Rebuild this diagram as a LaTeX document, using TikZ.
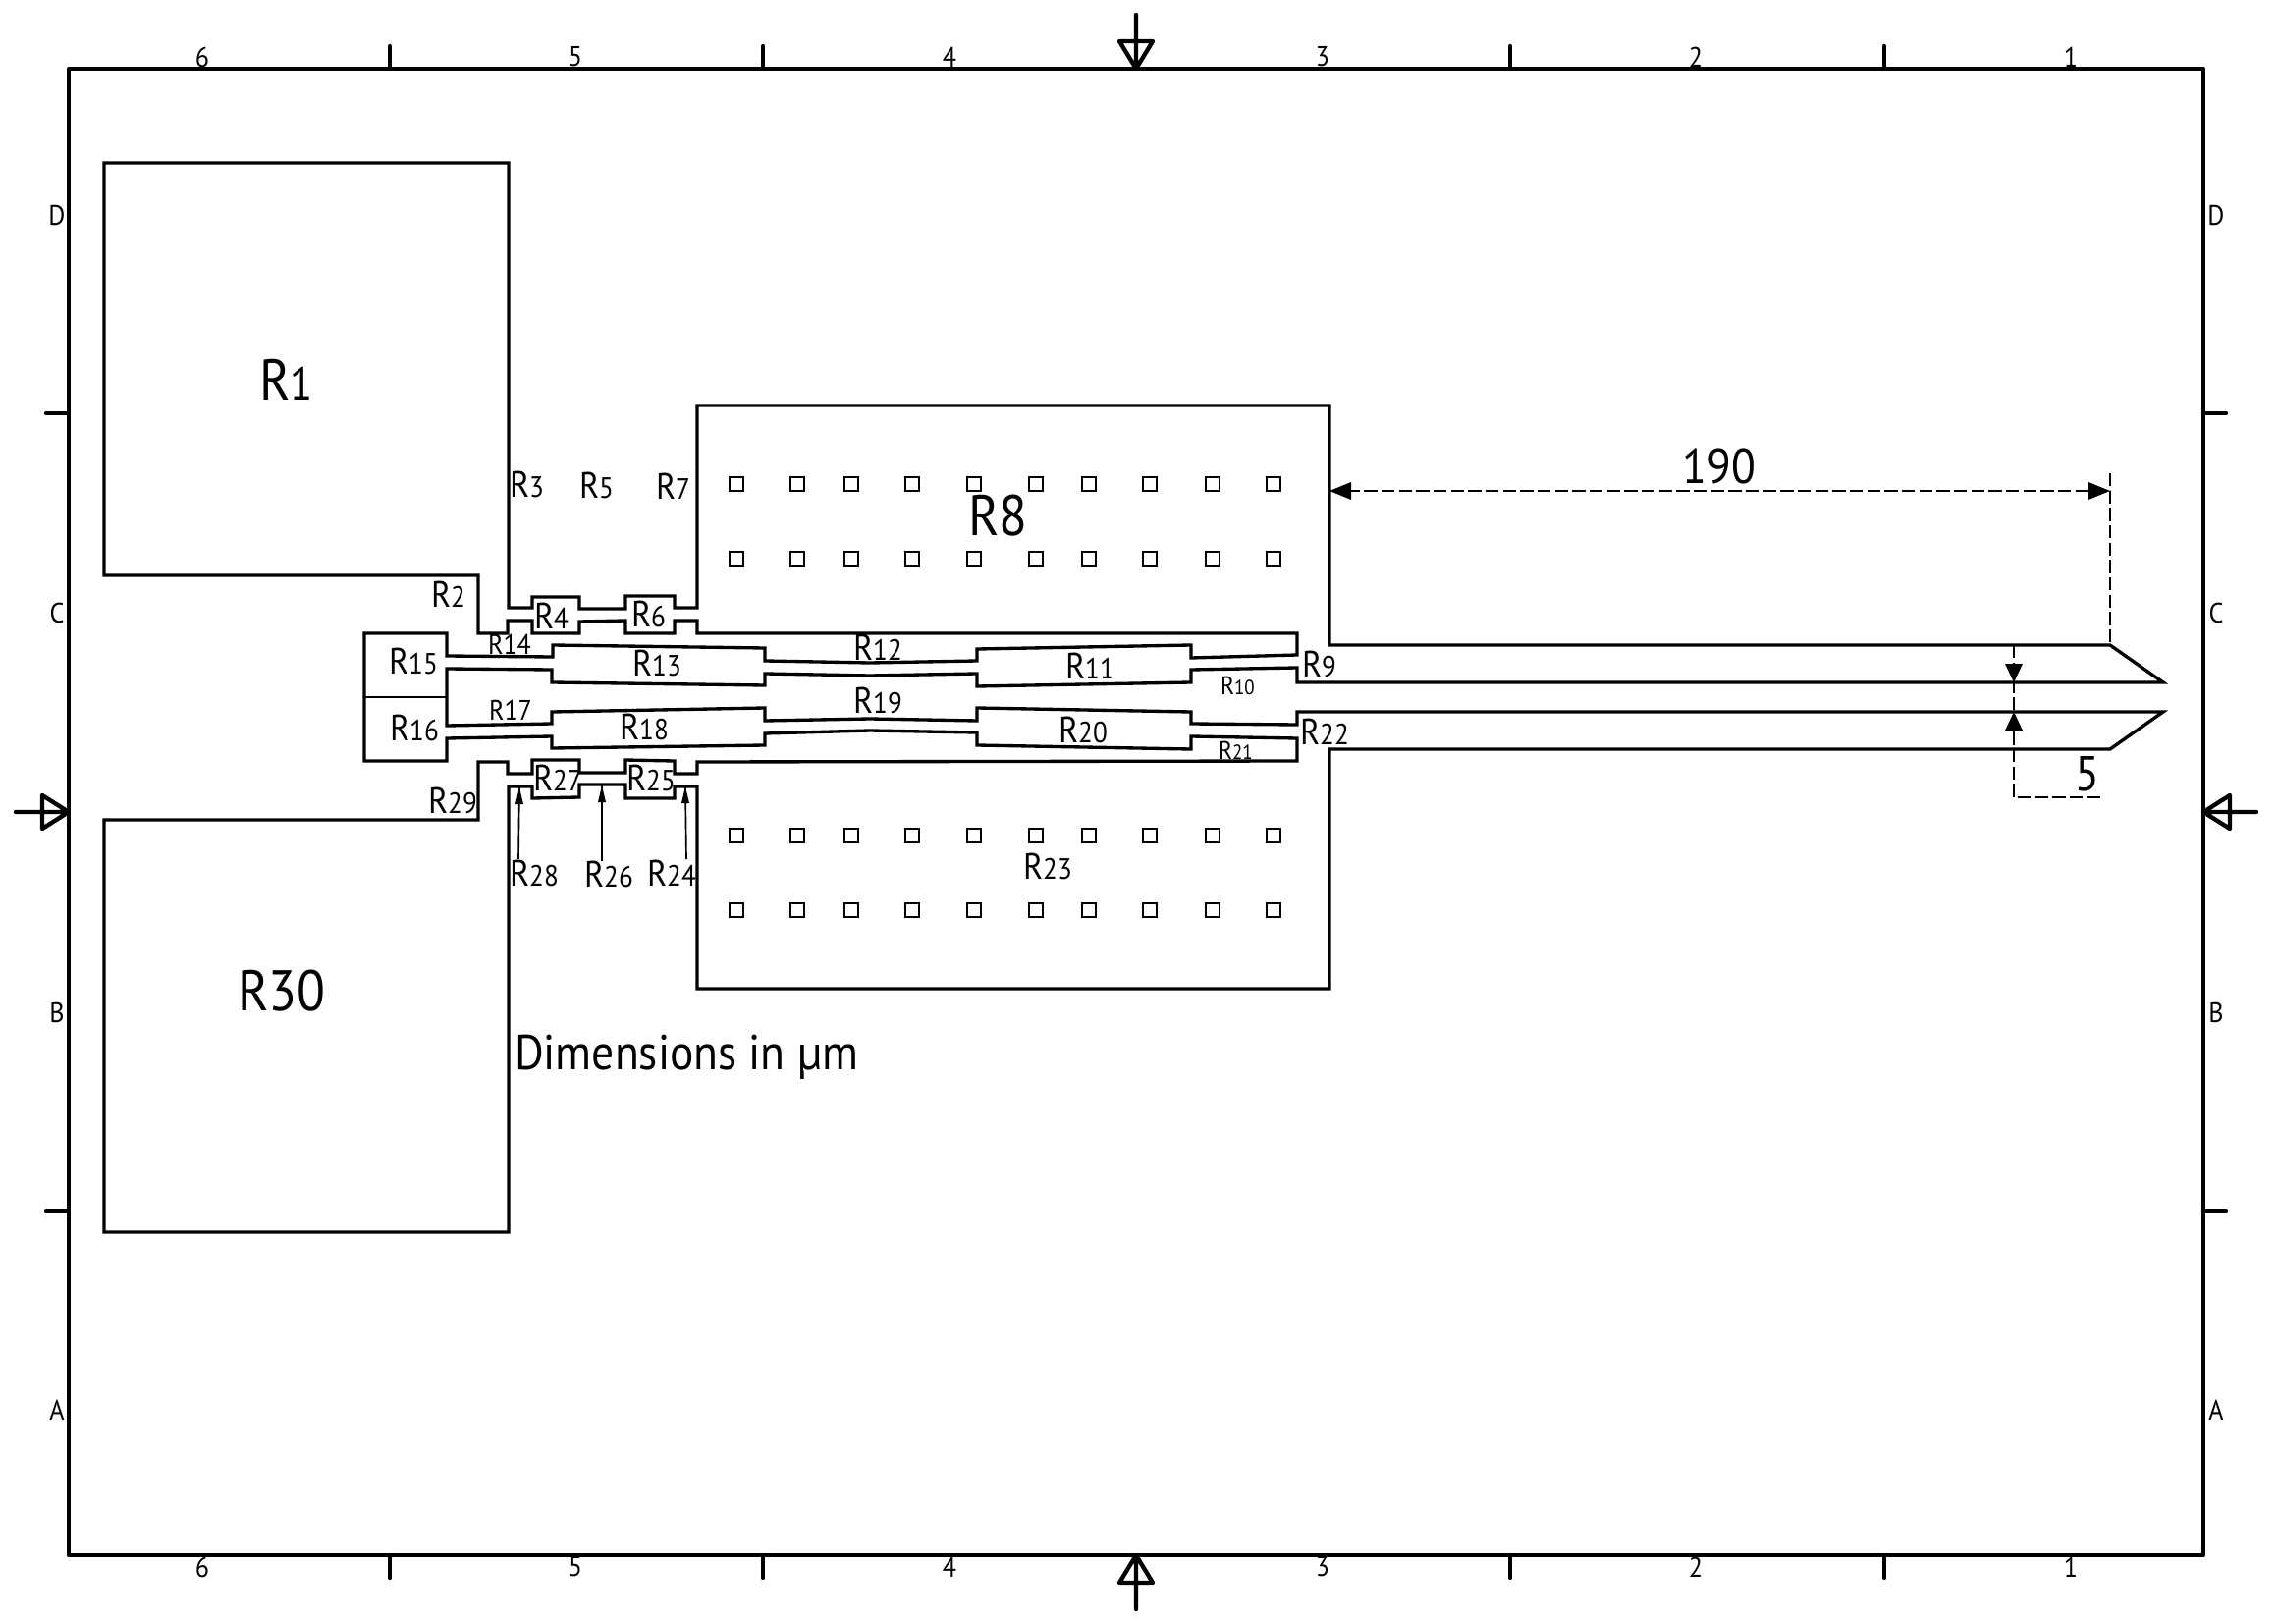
\documentclass[tikz,border=0pt]{standalone}
\usepackage{fontspec}
\setmainfont[FakeStretch = 0.91]{PT Sans}

\newcommand{\Rn}[1]{R\scalebox{0.8}{#1}}

\tikzset{
	frameline/.style = {line width = 1.3pt, line cap = round, line join = round},
	outline/.style = {line width = 1pt, line join = miter},
	pore/.style = {line width = 0.85pt},
	dimline/.style = {line width = 0.55pt, dash pattern = on 4pt off 1.3pt},
	leader/.style = {line width = 0.5pt},
	lbl/.style = {inner sep = 0, anchor = base west, xshift = -0.5pt},
	rhuge/.style = {lbl, font = \fontsize{17.5}{18}\selectfont},
	rmid/.style = {lbl, font = \fontsize{11.2}{12}\selectfont},
	rsmall/.style = {lbl, font = \fontsize{8.6}{10}\selectfont},
	rtiny/.style = {lbl, font = \fontsize{7.8}{9}\selectfont},
	border/.style = {inner sep = 0, font = \fontsize{8.6}{10}\selectfont}
}

\begin{document}
\begin{tikzpicture}[x = 0.3pt, y = -0.3pt]

	\useasboundingbox (0, 0) rectangle (2319, 1654);

	% drawing sheet
	\draw [frameline] (70, 70) rectangle (2244, 1584);
	\foreach \x in {397, 777, 1538, 1919} {
		\draw [frameline] (\x, 70) -- (\x, 47);
		\draw [frameline] (\x, 1584) -- (\x, 1607);
	}
	\foreach \y in {421, 1233} {
		\draw [frameline] (70, \y) -- (47, \y);
		\draw [frameline] (2244, \y) -- (2267, \y);
	}
	\foreach \x/\n in {206/6, 586/5, 967/4, 1347/3, 1727/2, 2109/1} {
		\node [border] (top\n) at (\x, 58) {\n};
		\node [border] (bot\n) at (\x, 1596) {\n};
	}
	\foreach \y/\n in {219/D, 624/C, 1031/B, 1436/A} {
		\node [border] (left\n) at (58, \y) {\n};
		\node [border] (right\n) at (2257, \y) {\n};
	}

	% section arrows
	\draw [frameline] (1157, 15) -- (1157, 70) (1157, 70) -- (1140, 42) -- (1174, 42) -- cycle;
	\draw [frameline] (1157, 1639) -- (1157, 1584) (1157, 1584) -- (1140, 1612) -- (1174, 1612) -- cycle;
	\draw [frameline] (16, 827) -- (70, 827) (70, 827) -- (43, 810) -- (43, 844) -- cycle;
	\draw [frameline] (2298, 827) -- (2244, 827) (2244, 827) -- (2271, 810) -- (2271, 844) -- cycle;

	% probe outline
	\draw [outline] (106, 166) -- (518, 166) -- (518, 619) -- (542, 619) -- (542, 608) -- (590, 608) -- (590, 620) -- (637, 620) -- (637, 607) -- (687, 607) -- (687, 619) -- (710, 619) -- (710, 413) -- (1354, 413) -- (1354, 657) -- (2149, 657) -- (2203, 695) -- (1321, 695) -- (1321, 680) -- (1213, 682) -- (1213, 695) -- (995, 699) -- (995, 686) -- (886, 688) -- (779, 686) -- (779, 698) -- (562, 695) -- (562, 682) -- (455, 681) -- (455, 739) -- (562, 737) -- (562, 725) -- (779, 721) -- (779, 734) -- (886, 732) -- (995, 734) -- (995, 721) -- (1213, 725) -- (1213, 737) -- (1321, 738) -- (1321, 725) -- (2203, 725) -- (2149, 763) -- (1354, 763) -- (1354, 1007) -- (710, 1007) -- (710, 801) -- (687, 801) -- (687, 813) -- (637, 813) -- (637, 799) -- (590, 799) -- (590, 812) -- (542, 813) -- (542, 801) -- (518, 801) -- (518, 1255) -- (106, 1255) -- (106, 835) -- (487, 835) -- (487, 776) -- (517, 776) -- (517, 788) -- (542, 788) -- (542, 774) -- (590, 774) -- (590, 787) -- (637, 787) -- (637, 774) -- (687, 775) -- (687, 788) -- (710, 788) -- (710, 776) -- (1321, 775) -- (1321, 752) -- (1213, 750) -- (1213, 763) -- (995, 759) -- (995, 746) -- (886, 744) -- (779, 747) -- (779, 759) -- (562, 762) -- (562, 750) -- (455, 752) -- (455, 775) -- (371, 775) -- (371, 645) -- (455, 645) -- (455, 668) -- (563, 669) -- (563, 657) -- (779, 660) -- (779, 673) -- (886, 675) -- (995, 673) -- (995, 661) -- (1213, 657) -- (1213, 670) -- (1321, 667) -- (1321, 645) -- (710, 645) -- (710, 632) -- (687, 632) -- (687, 645) -- (637, 645) -- (637, 632) -- (590, 633) -- (590, 645) -- (542, 645) -- (542, 632) -- (517, 632) -- (517, 645) -- (487, 645) -- (487, 586) -- (106, 586) -- cycle;
	\draw [line width = 0.45pt] (371, 710) -- (455, 710);

	% pores
	\foreach \x in {750, 812, 867, 929, 992, 1055, 1109, 1171, 1235, 1297} {
		\foreach \y in {493, 569, 851, 927} {
			\draw [pore] (\x - 7, \y - 7) rectangle (\x + 7, \y + 7);
		}
	}

	% labels
	\node [rhuge] (rone) at (265, 407) {\Rn{1}};
	\node [rhuge] (reight) at (987, 545) {R8};
	\node [rhuge] (rthirty) at (243, 1029) {R30};
	\node [rmid] (rtwo) at (440, 618) {\Rn{2}};
	\node [rmid] (rthree) at (520, 506) {\Rn{3}};
	\node [rmid] (rfour) at (545, 640) {\Rn{4}};
	\node [rmid] (rfive) at (591, 507) {\Rn{5}};
	\node [rmid] (rsix) at (644, 638) {\Rn{6}};
	\node [rmid] (rseven) at (669, 508) {\Rn{7}};
	\node [rmid] (rnine) at (1327, 689) {\Rn{9}};
	\node [rtiny] (rten) at (1244, 707) {\Rn{10}};
	\node [rmid] (releven) at (1086, 691) {\Rn{11}};
	\node [rmid] (rtwelve) at (870, 672) {\Rn{12}};
	\node [rmid] (rthirteen) at (645, 688) {\Rn{13}};
	\node [rsmall] (rfourteen) at (498, 666) {R14};
	\node [rmid] (rfifteen) at (397, 686) {\Rn{15}};
	\node [rmid] (rsixteen) at (398, 754) {\Rn{16}};
	\node [rsmall] (rseventeen) at (499, 733) {R17};
	\node [rmid] (reighteen) at (632, 753) {\Rn{18}};
	\node [rmid] (rnineteen) at (870, 726) {\Rn{19}};
	\node [rmid] (rtwenty) at (1079, 756) {\Rn{20}};
	\node [rtiny] (rtwentyone) at (1242, 773) {\Rn{21}};
	\node [rmid] (rtwentytwo) at (1325, 758) {\Rn{22}};
	\node [rmid] (rtwentythree) at (1043, 895) {\Rn{23}};
	\node [rmid] (rtwentyfour) at (660, 902) {\Rn{24}};
	\node [rmid] (rtwentyfive) at (639, 805) {\Rn{25}};
	\node [rmid] (rtwentysix) at (596, 903) {\Rn{26}};
	\node [rmid] (rtwentyseven) at (544, 805) {\Rn{27}};
	\node [rmid] (rtwentyeight) at (520, 902) {\Rn{28}};
	\node [rmid] (rtwentynine) at (437, 828) {\Rn{29}};
	\node [lbl, font = \fontsize{15}{16}\selectfont] (dimnote) at (525, 1089) {Dimensions in µm};

	% leaders
	\coordinate (tipa) at (529, 802);
	\coordinate (tipb) at (613, 800);
	\coordinate (tipc) at (698, 801);
	\coordinate (taila) at (528, 875);
	\coordinate (tailb) at (613, 877);
	\coordinate (tailc) at (699, 875);
	\draw [leader] (taila) -- (tipa);
	\draw [leader] (tailb) -- (tipb);
	\draw [leader] (tailc) -- (tipc);
	\fill [black] (tipa) -- ++(-4, 17) -- ++(8, 0) -- cycle;
	\fill [black] (tipb) -- ++(-4, 17) -- ++(8, 0) -- cycle;
	\fill [black] (tipc) -- ++(-4, 17) -- ++(8, 0) -- cycle;

	% dimensions
	\coordinate (lenleft) at (1354, 500);
	\coordinate (lenright) at (2149, 500);
	\coordinate (lentop) at (2149, 482);
	\coordinate (lenfoot) at (2149, 657);
	\coordinate (gaptop) at (2051, 657);
	\coordinate (gapup) at (2051, 695);
	\coordinate (gapdown) at (2051, 725);
	\coordinate (gapfoot) at (2051, 812);
	\coordinate (gapend) at (2143, 812);
	\draw [dimline] (lentop) -- (lenfoot);
	\draw [dimline] (lenleft) -- (lenright);
	\draw [dimline] (gaptop) -- (gapfoot) -- (gapend);
	\fill [black] (lenleft) -- ++(22, -9) -- ++(0, 18) -- cycle;
	\fill [black] (lenright) -- ++(-22, -9) -- ++(0, 18) -- cycle;
	\fill [black] (gapup) -- ++(-9, -19) -- ++(18, 0) -- cycle;
	\fill [black] (gapdown) -- ++(-9, 19) -- ++(18, 0) -- cycle;
	\node [font = \fontsize{15}{16}\selectfont, inner sep = 0] (lenval) at (1751, 475) {190};
	\node [font = \fontsize{15}{16}\selectfont, inner sep = 0] (gapval) at (2126, 788) {5};

\end{tikzpicture}
\end{document}
